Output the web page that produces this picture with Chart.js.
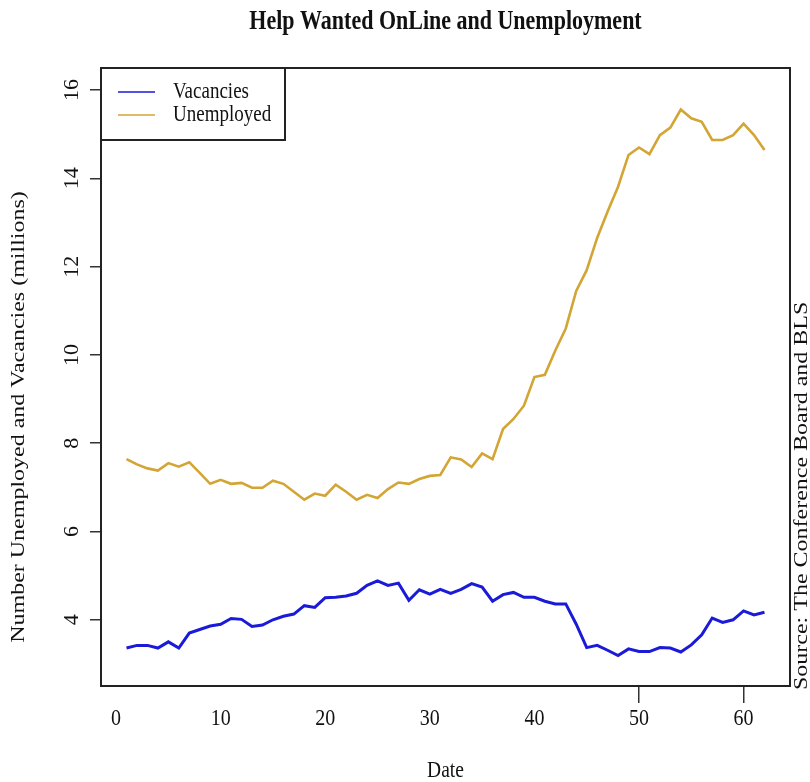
<!DOCTYPE html>
<html>
<head>
<meta charset="utf-8">
<script src="https://cdn.jsdelivr.net/npm/chart.js@4.4.1/dist/chart.umd.min.js"></script>
<style>
  html, body { margin: 0; padding: 0; background: #fff; }
  #wrap { width: 810px; height: 782px; }
</style>
</head>
<body>
<div id="wrap"><canvas id="c" width="810" height="782"></canvas></div>
<script>
// ---- data ----
const periods = [1,2,3,4,5,6,7,8,9,10,11,12,13,14,15,16,17,18,19,20,21,22,23,24,25,26,27,28,29,30,31,
  32,33,34,35,36,37,38,39,40,41,42,43,44,45,46,47,48,49,50,51,52,53,54,55,56,57,58,59,60,61,62];
const vacancies = [3.36,3.42,3.42,3.36,3.50,3.36,3.70,3.78,3.86,3.90,4.03,4.01,3.85,3.88,4.00,4.08,
  4.13,4.32,4.28,4.50,4.51,4.54,4.60,4.78,4.88,4.78,4.83,4.44,4.68,4.58,4.69,4.60,4.69,4.82,4.74,4.42,
  4.57,4.62,4.51,4.51,4.42,4.36,4.36,3.90,3.37,3.42,3.31,3.19,3.34,3.28,3.28,3.37,3.36,3.27,3.43,3.66,
  4.04,3.94,4.00,4.20,4.11,4.17];
const unemployed = [7.64,7.52,7.43,7.38,7.55,7.47,7.57,7.33,7.08,7.17,7.08,7.10,6.99,6.99,7.15,7.08,
  6.90,6.72,6.86,6.81,7.06,6.90,6.72,6.83,6.76,6.96,7.11,7.08,7.19,7.26,7.28,7.68,7.63,7.46,7.77,7.64,
  8.32,8.55,8.85,9.50,9.55,10.10,10.60,11.45,11.92,12.65,13.25,13.81,14.53,14.70,14.55,14.98,15.15,15.56,
  15.36,15.28,14.87,14.87,14.98,15.24,14.98,14.64];
const xTickValues = [0,10,20,30,40,50,60];
const xTickMarked = [50,60];
const yTickValues = [4,6,8,10,12,14,16];
const seriesNames = ['Vacancies','Unemployed'];
const titleText = 'Help Wanted OnLine and Unemployment';
const xTitle = 'Date';
const yTitle = 'Number Unemployed and Vacancies (millions)';
const sourceText = 'Source: The Conference Board and BLS';

const SERIF = '"Liberation Serif", "DejaVu Serif", serif';
const STRETCH = 1.2; // reference text is drawn taller than wide

function drawText(ctx, text, x, y, o) {
  ctx.save();
  ctx.translate(x, y);
  if (o.rotate) ctx.rotate(o.rotate);
  ctx.scale(o.sx || 1, o.sy || 1);
  ctx.font = (o.bold ? 'bold ' : '') + o.size + 'px ' + SERIF;
  ctx.textAlign = o.align || 'center';
  ctx.textBaseline = 'middle';
  ctx.fillStyle = '#111';
  ctx.fillText(text, 0, 0);
  ctx.restore();
}

const decor = {
  id: 'decor',
  afterDraw(chart) {
    const {ctx, chartArea: a, scales} = chart;
    ctx.save();
    // title
    drawText(ctx, titleText, (a.left + a.right) / 2, 22, {size: 22, bold: true, sy: STRETCH});
    // legend box
    ctx.fillStyle = '#fff';
    ctx.fillRect(a.left, a.top, 184, 72);
    ctx.strokeStyle = '#222';
    ctx.lineWidth = 2;
    ctx.strokeRect(a.left, a.top, 184, 72);
    chart.data.datasets.forEach((ds, i) => {
      const ly = a.top + 24 + i * 23;
      ctx.strokeStyle = ds.borderColor;
      ctx.lineWidth = 1.6;
      ctx.beginPath();
      ctx.moveTo(a.left + 17, ly);
      ctx.lineTo(a.left + 54, ly);
      ctx.stroke();
      drawText(ctx, ds.label, a.left + 72, ly, {size: 19, align: 'left', sy: STRETCH});
    });
    // plot box
    ctx.strokeStyle = '#222';
    ctx.lineWidth = 2;
    ctx.strokeRect(a.left, a.top, a.right - a.left, a.bottom - a.top);
    // x tick labels
    const x = scales.x;
    x.ticks.forEach(t => {
      drawText(ctx, String(t.value), x.getPixelForValue(t.value), 719, {size: 20, sy: STRETCH});
    });
    // x title
    drawText(ctx, xTitle, (a.left + a.right) / 2, 771, {size: 19.5, sy: STRETCH});
    // rotated y tick labels
    const y = scales.y;
    y.ticks.forEach(t => {
      drawText(ctx, String(t.value), 73, y.getPixelForValue(t.value),
        {size: 20, rotate: -Math.PI / 2, sx: 1.1});
    });
    // y title
    drawText(ctx, yTitle, 19, 417, {size: 19.5, rotate: -Math.PI / 2, sx: 1.23});
    // source
    drawText(ctx, sourceText, 802, a.bottom + 4, {size: 19.5, rotate: -Math.PI / 2, sx: 1.23, align: 'left'});
    ctx.restore();
  }
};

new Chart(document.getElementById('c'), {
  type: 'line',
  data: {
    datasets: [
      { label: seriesNames[0], data: periods.map((p, i) => ({x: p, y: vacancies[i]})),
        borderColor: '#1a1ad8', borderWidth: 3, pointRadius: 0, tension: 0, fill: false },
      { label: seriesNames[1], data: periods.map((p, i) => ({x: p, y: unemployed[i]})),
        borderColor: '#d2a534', borderWidth: 2.6, pointRadius: 0, tension: 0, fill: false }
    ]
  },
  options: {
    responsive: false,
    animation: false,
    events: [],
    layout: { padding: { top: 68, left: 0, right: 20, bottom: 0 } },
    plugins: {
      legend: { display: false },
      tooltip: { enabled: false },
      title: { display: false }
    },
    scales: {
      x: {
        type: 'linear', min: -1.44, max: 64.44,
        afterBuildTicks: s => { s.ticks = xTickValues.map(v => ({value: v})); },
        afterFit: s => { s.height = 96; },
        grid: { drawOnChartArea: false, drawTicks: true, tickLength: 17, lineWidth: 1.5,
          tickColor: c => (c.tick && xTickMarked.includes(c.tick.value)) ? '#333' : 'rgba(0,0,0,0)' },
        border: { display: false },
        ticks: { display: false }
      },
      y: {
        type: 'linear', min: 2.5, max: 16.5,
        afterBuildTicks: s => { s.ticks = yTickValues.map(v => ({value: v})); },
        afterFit: s => { s.width = 101; },
        grid: { drawOnChartArea: false, drawTicks: true, tickLength: 11, lineWidth: 1.5, tickColor: '#333' },
        border: { display: false },
        ticks: { display: false }
      }
    }
  },
  plugins: [decor]
});
</script>
</body>
</html>
